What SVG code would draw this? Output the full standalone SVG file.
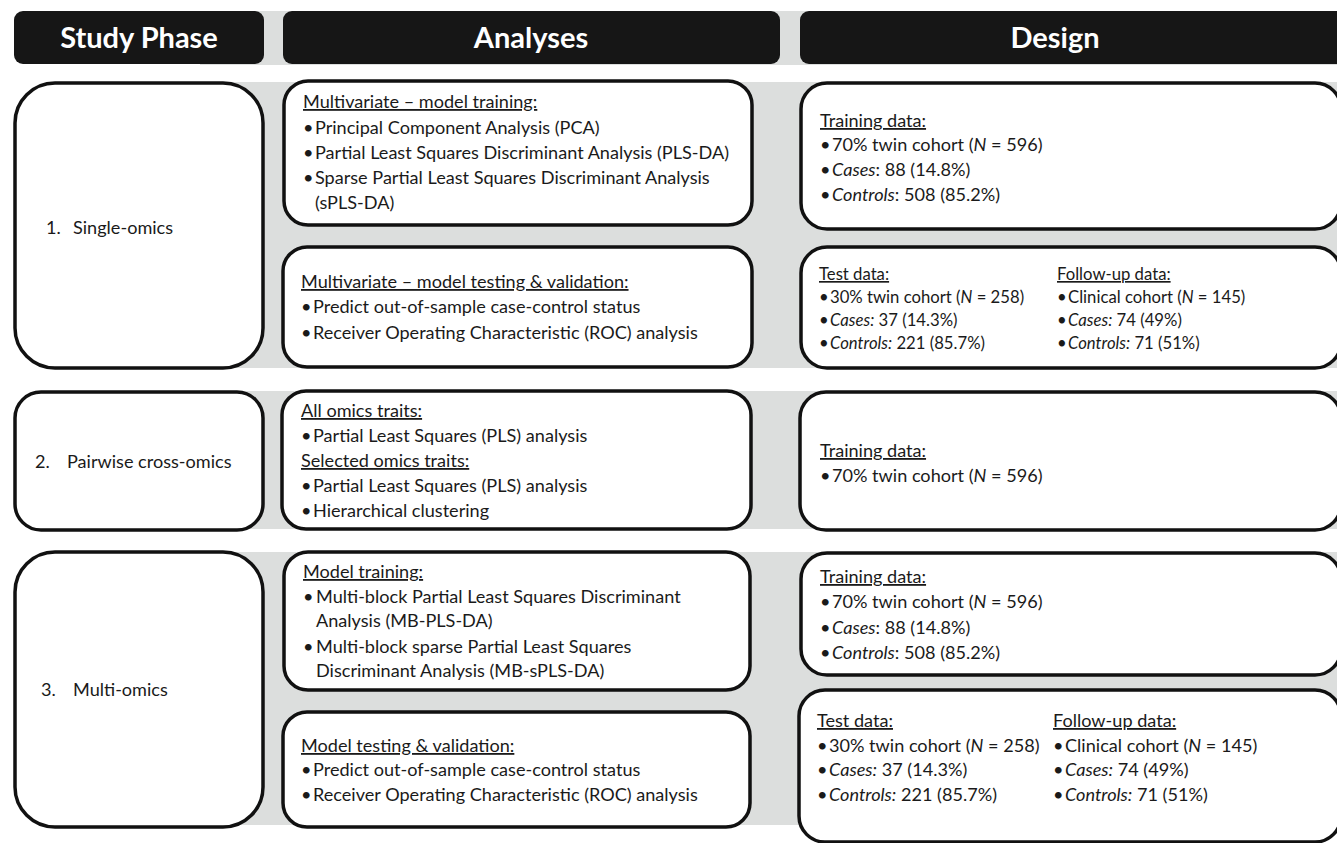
<svg xmlns="http://www.w3.org/2000/svg" width="1337" height="843" viewBox="0 0 1337 843">
<style>
.band{fill:#dcdedd}
.hdr{fill:#161616}
.ht{fill:#fff;font-family:Lato,"Liberation Sans",sans-serif;font-weight:bold;font-size:29px;text-anchor:middle}
.box{fill:#fff;stroke:#111;stroke-width:3.5}
text{font-family:Lato,"Liberation Sans",sans-serif;fill:#1a1a1a}
.t{font-size:18.1px}
.s{font-size:16.7px}
.u{text-decoration:underline}
.i{font-style:italic}
</style>
<rect width="1337" height="843" fill="#fff"/>
<g id="bands">
<rect class="band" x="200" y="11" width="1137" height="54"/>
<rect class="band" x="200" y="82" width="1137" height="286"/>
<rect class="band" x="200" y="391" width="1137" height="138"/>
<rect class="band" x="200" y="552" width="1137" height="273"/>
</g>
<g id="header-study">
<rect class="hdr" x="14" y="11" width="250" height="53" rx="9"/>
<text class="ht" x="139" y="48">Study Phase</text>
</g>
<g id="header-analyses">
<rect class="hdr" x="283" y="11" width="497" height="53" rx="9"/>
<text class="ht" x="531" y="48">Analyses</text>
</g>
<g id="header-design">
<rect class="hdr" x="800" y="11" width="545" height="53" rx="9"/>
<text class="ht" x="1055" y="48">Design</text>
</g>
<g id="phase1">
<rect class="box" x="15" y="83" width="248" height="285" rx="40"/>
<text class="t" x="46" y="234">1.</text><text class="t" x="73" y="234">Single-omics</text>
</g>
<g id="analyses1a">
<rect class="box" x="284" y="81" width="468" height="144" rx="24"/>
<text class="t u" x="303" y="108">Multivariate – model training:</text>
<text class="t" x="303" y="134">•</text><text class="t" x="315" y="134">Principal Component Analysis (PCA)</text>
<text class="t" x="303" y="159">•</text><text class="t" x="315" y="159">Partial Least Squares Discriminant Analysis (PLS-DA)</text>
<text class="t" x="303" y="184">•</text><text class="t" x="315" y="184">Sparse Partial Least Squares Discriminant Analysis</text>
<text class="t" x="315" y="209">(sPLS-DA)</text>
</g>
<g id="analyses1b">
<rect class="box" x="283" y="247" width="469" height="120" rx="24"/>
<text class="t u" x="301" y="288">Multivariate – model testing &amp; validation:</text>
<text class="t" x="301" y="313">•</text><text class="t" x="313" y="313">Predict out-of-sample case-control status</text>
<text class="t" x="301" y="339">•</text><text class="t" x="313" y="339">Receiver Operating Characteristic (ROC) analysis</text>
</g>
<g id="design1a">
<rect class="box" x="801" y="83" width="540" height="146" rx="26"/>
<text class="t u" x="820" y="127">Training data:</text>
<text class="t" x="820" y="151">•</text><text class="t" x="832" y="151">70% twin cohort (<tspan class="i">N</tspan> = 596)</text>
<text class="t" x="820" y="176">•</text><text class="t" x="832" y="176"><tspan class="i">Cases</tspan>: 88 (14.8%)</text>
<text class="t" x="820" y="201">•</text><text class="t" x="832" y="201"><tspan class="i">Controls</tspan>: 508 (85.2%)</text>
</g>
<g id="design1b">
<rect class="box" x="801" y="247" width="540" height="121" rx="26"/>
<text class="s u" x="819" y="280">Test data:</text>
<text class="s" x="819" y="303">•</text><text class="s" x="830" y="303">30% twin cohort (<tspan class="i">N</tspan> = 258)</text>
<text class="s" x="819" y="326">•</text><text class="s" x="830" y="326"><tspan class="i">Cases:</tspan> 37 (14.3%)</text>
<text class="s" x="819" y="349">•</text><text class="s" x="830" y="349"><tspan class="i">Controls:</tspan> 221 (85.7%)</text>
<text class="s u" x="1057" y="280">Follow-up data:</text>
<text class="s" x="1057" y="303">•</text><text class="s" x="1068" y="303">Clinical cohort (<tspan class="i">N</tspan> = 145)</text>
<text class="s" x="1057" y="326">•</text><text class="s" x="1068" y="326"><tspan class="i">Cases:</tspan> 74 (49%)</text>
<text class="s" x="1057" y="349">•</text><text class="s" x="1068" y="349"><tspan class="i">Controls:</tspan> 71 (51%)</text>
</g>
<g id="phase2">
<rect class="box" x="15" y="392" width="248" height="138" rx="26"/>
<text class="t" x="35" y="468">2.</text><text class="t" x="67" y="468">Pairwise cross-omics</text>
</g>
<g id="analyses2">
<rect class="box" x="282" y="391" width="469" height="138" rx="24"/>
<text class="t u" x="301" y="417">All omics traits:</text>
<text class="t" x="301" y="442">•</text><text class="t" x="313" y="442">Partial Least Squares (PLS) analysis</text>
<text class="t u" x="301" y="467">Selected omics traits:</text>
<text class="t" x="301" y="492">•</text><text class="t" x="313" y="492">Partial Least Squares (PLS) analysis</text>
<text class="t" x="301" y="517">•</text><text class="t" x="313" y="517">Hierarchical clustering</text>
</g>
<g id="design2">
<rect class="box" x="800" y="392" width="541" height="138" rx="26"/>
<text class="t u" x="820" y="457">Training data:</text>
<text class="t" x="820" y="482">•</text><text class="t" x="832" y="482">70% twin cohort (<tspan class="i">N</tspan> = 596)</text>
</g>
<g id="phase3">
<rect class="box" x="15" y="552" width="248" height="275" rx="40"/>
<text class="t" x="41" y="696">3.</text><text class="t" x="73" y="696">Multi-omics</text>
</g>
<g id="analyses3a">
<rect class="box" x="284" y="552" width="466" height="138" rx="24"/>
<text class="t u" x="303" y="578">Model training:</text>
<text class="t" x="303" y="603">•</text><text class="t" x="316" y="603">Multi-block Partial Least Squares Discriminant</text>
<text class="t" x="316" y="627">Analysis (MB-PLS-DA)</text>
<text class="t" x="303" y="653">•</text><text class="t" x="316" y="653">Multi-block sparse Partial Least Squares</text>
<text class="t" x="316" y="677">Discriminant Analysis (MB-sPLS-DA)</text>
</g>
<g id="analyses3b">
<rect class="box" x="283" y="712" width="467" height="115" rx="24"/>
<text class="t u" x="301" y="752">Model testing &amp; validation:</text>
<text class="t" x="301" y="776">•</text><text class="t" x="313" y="776">Predict out-of-sample case-control status</text>
<text class="t" x="301" y="801">•</text><text class="t" x="313" y="801">Receiver Operating Characteristic (ROC) analysis</text>
</g>
<g id="design3a">
<rect class="box" x="801" y="553" width="540" height="122" rx="26"/>
<text class="t u" x="820" y="583">Training data:</text>
<text class="t" x="820" y="608">•</text><text class="t" x="832" y="608">70% twin cohort (<tspan class="i">N</tspan> = 596)</text>
<text class="t" x="820" y="634">•</text><text class="t" x="832" y="634"><tspan class="i">Cases</tspan>: 88 (14.8%)</text>
<text class="t" x="820" y="659">•</text><text class="t" x="832" y="659"><tspan class="i">Controls</tspan>: 508 (85.2%)</text>
</g>
<g id="design3b">
<rect class="box" x="799" y="690" width="542" height="152" rx="26"/>
<text class="t u" x="817" y="727">Test data:</text>
<text class="t" x="817" y="752">•</text><text class="t" x="829" y="752">30% twin cohort (<tspan class="i">N</tspan> = 258)</text>
<text class="t" x="817" y="776">•</text><text class="t" x="829" y="776"><tspan class="i">Cases:</tspan> 37 (14.3%)</text>
<text class="t" x="817" y="801">•</text><text class="t" x="829" y="801"><tspan class="i">Controls:</tspan> 221 (85.7%)</text>
<text class="t u" x="1053" y="727">Follow-up data:</text>
<text class="t" x="1053" y="752">•</text><text class="t" x="1065" y="752">Clinical cohort (<tspan class="i">N</tspan> = 145)</text>
<text class="t" x="1053" y="776">•</text><text class="t" x="1065" y="776"><tspan class="i">Cases:</tspan> 74 (49%)</text>
<text class="t" x="1053" y="801">•</text><text class="t" x="1065" y="801"><tspan class="i">Controls:</tspan> 71 (51%)</text>
</g>
<g id="connectors"></g>
</svg>
